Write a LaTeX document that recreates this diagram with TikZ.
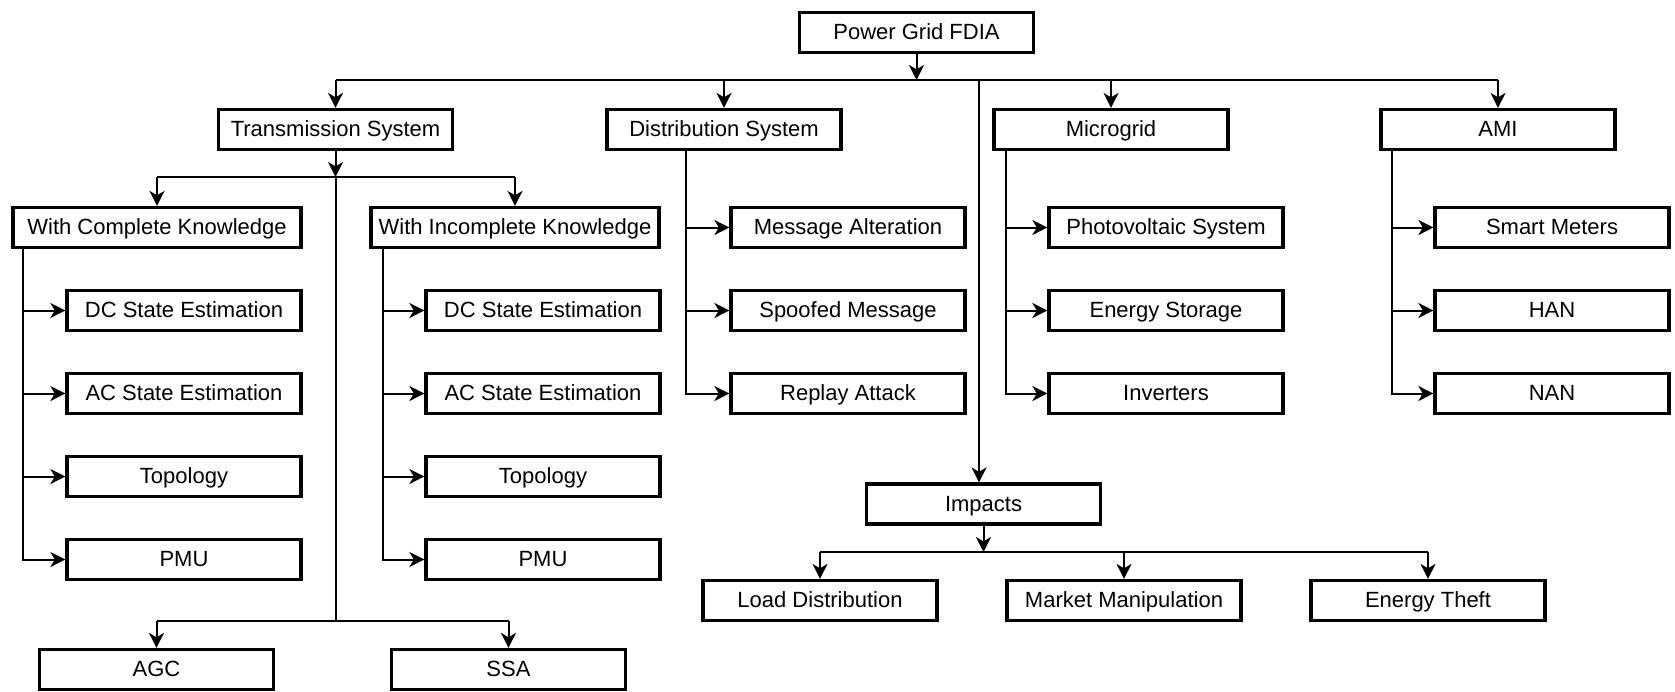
\documentclass[tikz,border=0pt]{standalone}
\usepackage{fontspec}
\setmainfont{Liberation Sans}
\usetikzlibrary{arrows.meta}
\begin{document}
\begin{tikzpicture}[x=0.5pt,y=-0.5pt,
  box/.style={draw, line width=1.6pt, minimum width=117pt, minimum height=20pt, inner sep=0pt, text height=8pt, text depth=1pt, font=\fontsize{11}{13}\selectfont},
  widebox/.style={box, minimum width=144pt},
  conn/.style={line width=1pt},
  arr/.style={conn, -{Stealth[length=7.5pt,width=7.5pt,inset=2.2pt]}}]
\useasboundingbox (0,0) rectangle (1675,691);
% top
\node[box] (root) at (916.5,32.5) {Power Grid FDIA};
\node[box] (trans) at (335.5,129.5) {Transmission System};
\node[box] (dist) at (724,129.5) {Distribution System};
\node[box] (micro) at (1111,129.5) {Microgrid};
\node[box] (ami) at (1498,129.5) {AMI};
% transmission
\node[widebox] (wck) at (157,227.5) {With Complete Knowledge};
\node[widebox] (wik) at (515,227.5) {With Incomplete Knowledge};
\node[box] (dca) at (184,310.5) {DC State Estimation};
\node[box] (aca) at (184,393.5) {AC State Estimation};
\node[box] (topa) at (184,476.5) {Topology};
\node[box] (pmua) at (184,559.5) {PMU};
\node[box] (dcb) at (543,310.5) {DC State Estimation};
\node[box] (acb) at (543,393.5) {AC State Estimation};
\node[box] (topb) at (543,476.5) {Topology};
\node[box] (pmub) at (543,559.5) {PMU};
\node[box] (agc) at (156.5,669.5) {AGC};
\node[box] (ssa) at (508.5,669.5) {SSA};
% distribution
\node[box] (ma) at (848,227.5) {Message Alteration};
\node[box] (sm) at (848,310.5) {Spoofed Message};
\node[box] (ra) at (848,393.5) {Replay Attack};
% microgrid
\node[box] (pv) at (1166,227.5) {Photovoltaic System};
\node[box] (es) at (1166,310.5) {Energy Storage};
\node[box] (inv) at (1166,393.5) {Inverters};
% AMI
\node[box] (smet) at (1552,227.5) {Smart Meters};
\node[box] (han) at (1552,310.5) {HAN};
\node[box] (nan) at (1552,393.5) {NAN};
% impacts
\node[box] (imp) at (983.5,504) {Impacts};
\node[box] (ld) at (820,600.5) {Load Distribution};
\node[box] (mm) at (1124,600.5) {Market Manipulation};
\node[box] (et) at (1428,600.5) {Energy Theft};

% bus coordinates
\coordinate (bus1) at (0,80);
\coordinate (bus2) at (0,177);
\coordinate (bus3) at (0,621);
\coordinate (bus4) at (0,552);
\coordinate (impj) at (979,80);

% root level
\draw[arr] (root) -- (root |- bus1);
\draw[conn] (trans |- bus1) -- (ami |- bus1);
\draw[arr] (trans |- bus1) -- (trans);
\draw[arr] (dist |- bus1) -- (dist);
\draw[arr] (micro |- bus1) -- (micro);
\draw[arr] (ami |- bus1) -- (ami);
\draw[arr] (impj) -- (impj |- imp.north);

% transmission
\draw[arr] (trans) -- (trans |- bus2);
\draw[conn] (wck |- bus2) -- (wik |- bus2);
\draw[arr] (wck |- bus2) -- (wck);
\draw[arr] (wik |- bus2) -- (wik);
\draw[conn] (trans |- bus2) -- (trans |- bus3);
\draw[conn] (agc |- bus3) -- (ssa |- bus3);
\draw[arr] (agc |- bus3) -- (agc);
\draw[arr] (ssa |- bus3) -- (ssa);

\coordinate (ta) at ([xshift=6pt]wck.south west);
\draw[arr] (ta) |- (dca);
\draw[arr] (ta) |- (aca);
\draw[arr] (ta) |- (topa);
\draw[arr] (ta) |- (pmua);

\coordinate (tb) at ([xshift=7pt]wik.south west);
\draw[arr] (tb) |- (dcb);
\draw[arr] (tb) |- (acb);
\draw[arr] (tb) |- (topb);
\draw[arr] (tb) |- (pmub);

% distribution
\coordinate (td) at ([xshift=40.5pt]dist.south west);
\draw[arr] (td) |- (ma);
\draw[arr] (td) |- (sm);
\draw[arr] (td) |- (ra);

% microgrid
\coordinate (tm) at ([xshift=7pt]micro.south west);
\draw[arr] (tm) |- (pv);
\draw[arr] (tm) |- (es);
\draw[arr] (tm) |- (inv);

% AMI
\coordinate (tam) at ([xshift=6.5pt]ami.south west);
\draw[arr] (tam) |- (smet);
\draw[arr] (tam) |- (han);
\draw[arr] (tam) |- (nan);

% impacts
\draw[arr] (imp) -- (imp |- bus4);
\draw[conn] (ld |- bus4) -- (et |- bus4);
\draw[arr] (ld |- bus4) -- (ld);
\draw[arr] (mm |- bus4) -- (mm);
\draw[arr] (et |- bus4) -- (et);
\end{tikzpicture}
\end{document}
